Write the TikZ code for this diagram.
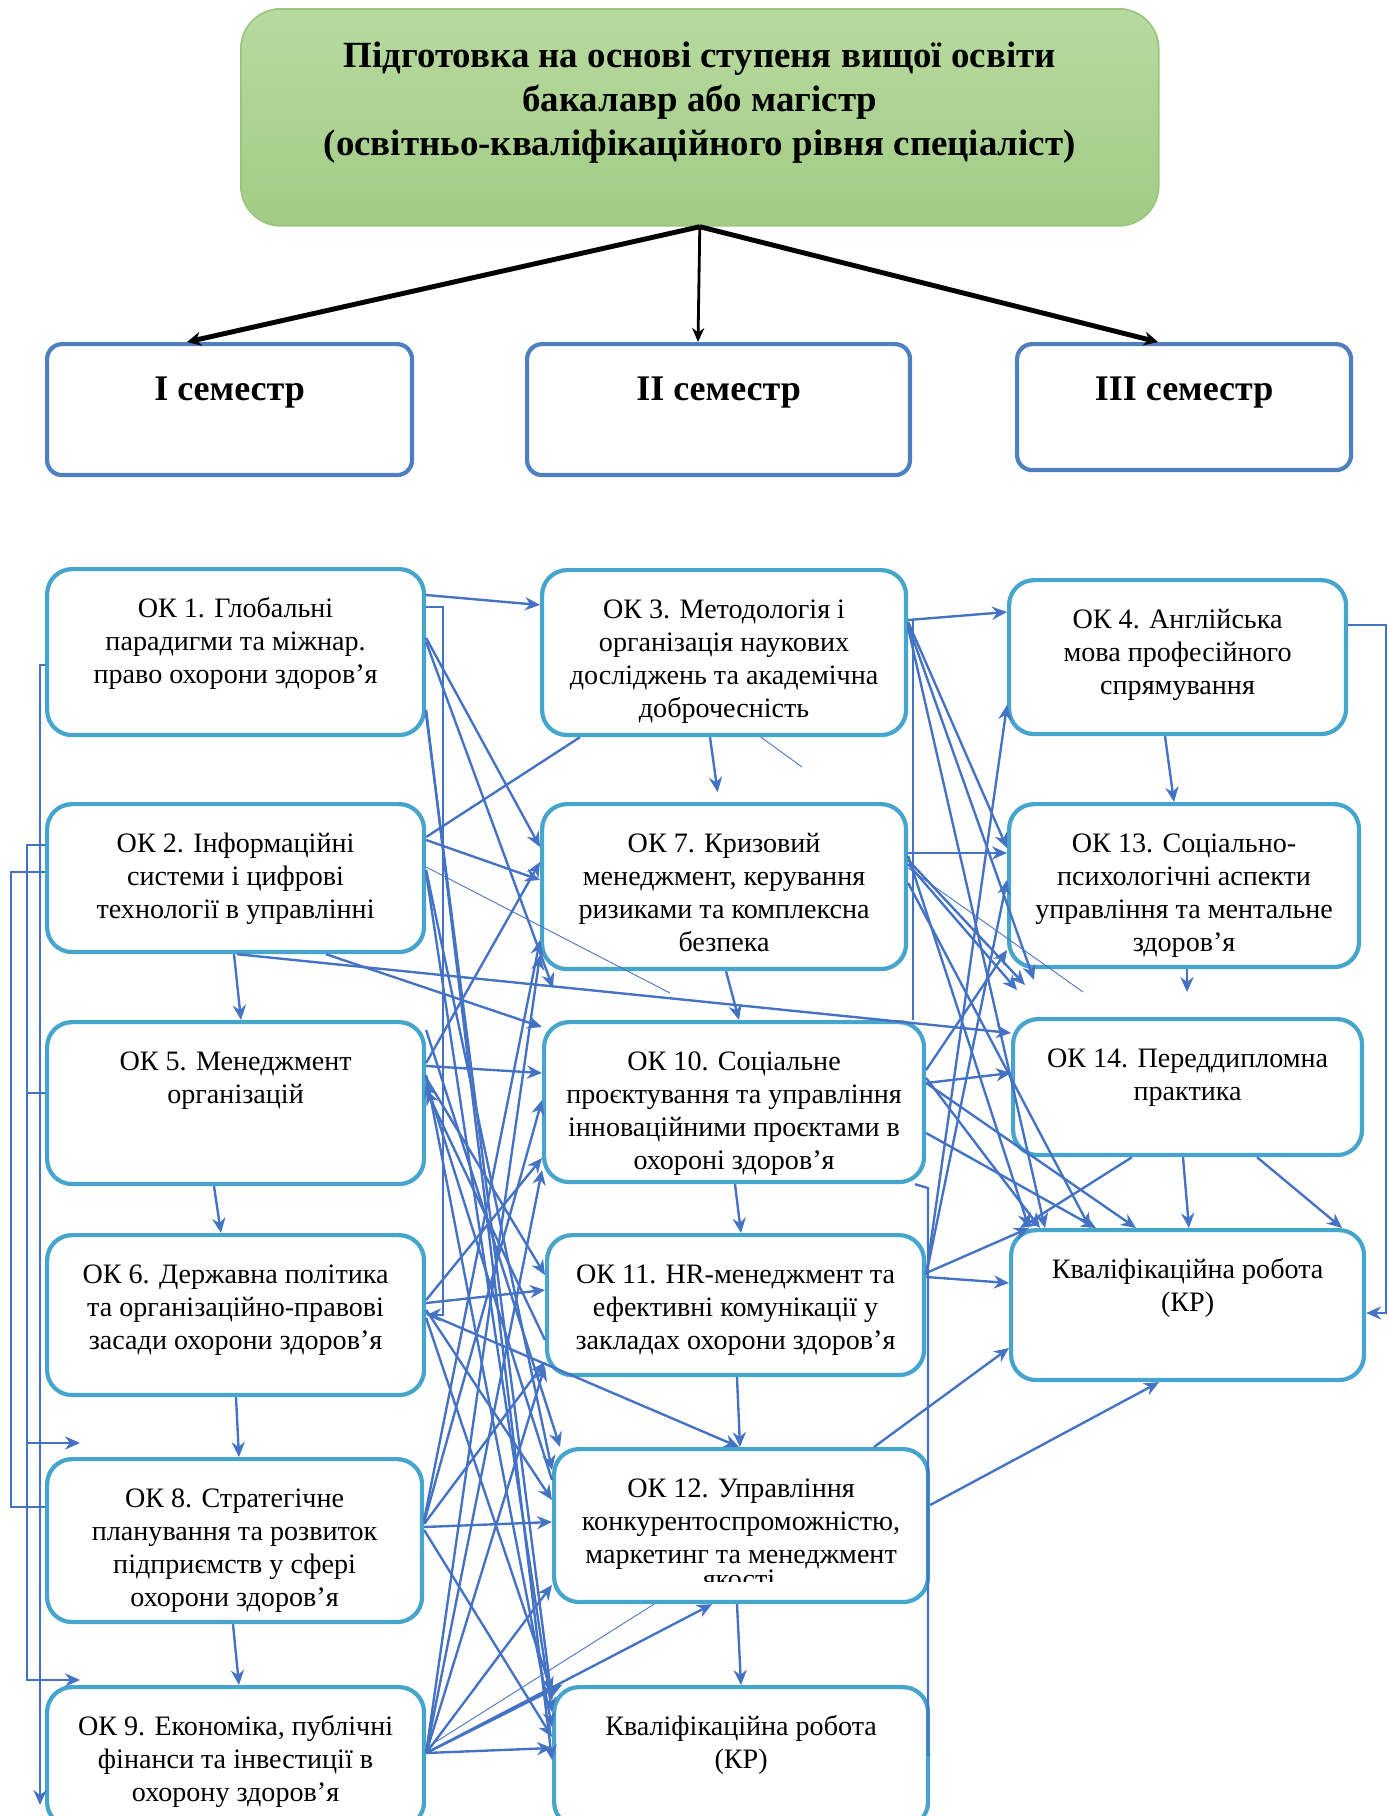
\documentclass[tikz,border=0pt]{standalone}
\usepackage{fontspec}
\setmainfont{Liberation Serif}
\usetikzlibrary{arrows.meta}
\definecolor{okc}{HTML}{45A5CC}
\definecolor{semc}{HTML}{4F7FC0}
\definecolor{lnc}{HTML}{4472C4}
\definecolor{greenT}{HTML}{B7DA9F}
\definecolor{greenB}{HTML}{A2CC85}
\definecolor{greenD}{HTML}{9BC57F}
\newcommand\bt[4][0.96cm]{\parbox[t][#3][t]{#2}{\centering\rule{0pt}{#1}#4\par}}
\tikzset{
  okb/.style={draw=okc, line width=2.4pt, rounded corners=0.5cm, inner sep=0pt, fill=white, font=\fontsize{16}{18.8}\selectfont, anchor=north west},
  semb/.style={draw=semc, line width=2.4pt, rounded corners=0.3cm, inner sep=0pt, fill=white, font=\bfseries\fontsize{20.5}{24}\selectfont, anchor=north west},
  topb/.style={draw=greenD, line width=1pt, rounded corners=0.8cm, top color=greenT, bottom color=greenB, inner sep=0pt, font=\bfseries\fontsize{21}{25}\selectfont, anchor=north west},
  txt/.style={inner sep=0pt, font=\fontsize{16}{18.8}\selectfont},
  conn/.style={draw=lnc, line width=1.35pt},
  arr/.style={conn, -{Stealth[length=8.5pt,width=7.5pt]}},
  thinl/.style={draw=lnc, line width=0.5pt},
  blk/.style={draw=black, line width=2.8pt, -{Stealth[length=8pt,width=8pt]}},
  blkthin/.style={draw=black, line width=1.6pt, -{Stealth[length=8pt,width=7pt]}}
}
\begin{document}
\begin{tikzpicture}[x=0.02cm, y=-0.02cm]
\useasboundingbox (0,0) rectangle (1389,1816);
\begin{scope}
\clip (0,0) rectangle (1389,1816);
% ---------- top ----------
\node[topb] (top) at (240,8) {\bt[1.18cm]{18.36cm}{4.34cm}{Підготовка на основі ступеня вищої освіти\\бакалавр або магістр\\(освітньо-кваліфікаційного рівня спеціаліст)}};
\node[semb] (s1) at (45,342) {\bt[1.12cm]{7.30cm}{2.62cm}{I семестр}};
\node[semb] (s2) at (525,342) {\bt[1.12cm]{7.66cm}{2.62cm}{II семестр}};
\node[semb] (s3) at (1015,342) {\bt[1.12cm]{6.68cm}{2.52cm}{III семестр}};
% ---------- column 1 ----------
\node[okb] (ok1) at (45,567) {\bt{7.54cm}{3.32cm}{ОК 1. Глобальні\\парадигми та міжнар.\\право охорони здоров’я}};
\node[okb] (ok2) at (45,802) {\bt{7.54cm}{2.96cm}{ОК 2. Інформаційні\\системи і цифрові\\технології в управлінні}};
\node[okb] (ok5) at (45,1020) {\bt{7.54cm}{3.24cm}{ОК 5. Менеджмент\\організацій}};
\node[okb] (ok6) at (45,1233) {\bt{7.54cm}{3.20cm}{ОК 6. Державна політика\\та організаційно-правові\\засади охорони здоров’я}};
\node[okb] (ok8) at (45,1457) {\bt{7.50cm}{3.26cm}{ОК 8. Стратегічне\\планування та розвиток\\підприємств у сфері\\охорони здоров’я}};
\node[okb] (ok9) at (45,1685) {\bt{7.54cm}{2.80cm}{ОК 9. Економіка, публічні\\фінанси та інвестиції в\\охорону здоров'я}};
% ---------- column 2 ----------
\node[okb] (ok3) at (540,568) {\bt{7.28cm}{3.30cm}{ОК 3. Методологія і\\організація наукових\\досліджень та академічна\\доброчесність}};
\node[okb] (ok7) at (540,802) {\bt{7.28cm}{3.30cm}{ОК 7. Кризовий\\менеджмент, керування\\ризиками та комплексна\\безпека}};
\node[okb] (ok10) at (542,1020) {\bt{7.60cm}{3.20cm}{ОК 10. Соціальне\\проєктування та управління\\інноваційними проєктами в\\охороні здоров’я}};
\node[okb] (ok11) at (545,1233) {\bt{7.54cm}{2.80cm}{ОК 11. HR-менеджмент та\\ефективні комунікації у\\закладах охорони здоров’я}};
\node[okb] (ok12) at (552,1447) {\bt{7.48cm}{3.06cm}{ОК 12. Управління\\конкурентоспроможністю,\\маркетинг та менеджмент}};
\node[okb] (kr2) at (552,1685) {\bt{7.48cm}{2.80cm}{Кваліфікаційна робота\\(КР)}};
% ---------- column 3 ----------
\node[okb] (ok4) at (1007,578) {\bt{6.74cm}{3.08cm}{ОК 4. Англійська\\мова професійного\\спрямування}};
\node[okb] (ok13) at (1007,802) {\bt{7.00cm}{3.26cm}{ОК 13. Соціально-\\психологічні аспекти\\управління та ментальне\\здоров’я}};
\node[okb] (ok14) at (1011,1017) {\bt{6.98cm}{2.72cm}{ОК 14. Переддипломна\\практика}};
\node[okb] (kr3) at (1009,1228) {\bt{7.06cm}{3.00cm}{Кваліфікаційна робота\\(КР)}};
\begin{scope}
\clip (560,1560) rectangle (920,1581);
\node[txt, anchor=base] (ok12t) at (739,1588) {якості};
\end{scope}
% ---------- free ends ----------
\coordinate (t13) at (1187,992);
\coordinate (l9) at (80,1680);
\coordinate (l2m) at (27,1443);
\coordinate (l8) at (80,1443);
\coordinate (lb) at (40,1805);
\coordinate (x7) at (553,988);
\coordinate (x13a) at (1034,980);
\coordinate (x13b) at (1025,985);
\coordinate (x13c) at (1017,990);
\coordinate (th1) at (670,993);
\coordinate (th2) at (802,767);
\coordinate (th3) at (1083,992);
% ---------- black arrows ----------
\draw[blk] (top.south) -- (s1.north-|187,0);
\draw[blkthin] (top.south) -- (s2.north-|698,0);
\draw[blk] (top.south) -- (s3.north-|1158,0);
% ---------- side lines ----------
\draw[arr] (ok1.west|-0,665) -- (40,665) -- (lb);
\draw[arr] (ok2.west|-0,845) -- (27,845) -- (27,1680) -- (l9);
\draw[arr] (l2m) -- (l8);
\draw[conn] (ok2.west|-0,872) -- (11,872) -- (11,1507) -- (ok8.west|-0,1507);
\draw[conn] (ok5.west|-0,1093) -- (27,1093);
\draw[arr] (ok4.east|-0,625) -- (1386,625) -- (1386,1313) -- (kr3.east|-0,1313);
\draw[arr] (ok1.east|-0,607) -- (443,607) -- (443,1315) -- (ok6.east|-0,1315);
\draw[conn] (ok3.east|-0,620) -- (913,620) -- (ok10.north-|913,0);
\draw[conn] (ok10.south-|915,0) -- (928,1188) -- (928,1755) -- (kr2.east|-0,1755);
% ---------- vertical arrows ----------
\draw[arr] (ok2.south-|234,0) -- (ok5.north-|241,0);
\draw[arr] (ok5.south-|214,0) -- (ok6.north-|221,0);
\draw[arr] (ok6.south-|236,0) -- (ok8.north-|239,0);
\draw[arr] (ok8.south-|233,0) -- (ok9.north-|239,0);
\draw[arr, shorten >=0.2cm] (ok3.south-|710,0) -- (ok7.north-|719,0);
\draw[arr] (ok7.south-|726,0) -- (ok10.north-|739,0);
\draw[arr] (ok10.south-|735,0) -- (ok11.north-|741,0);
\draw[arr] (ok11.south-|737,0) -- (ok12.north-|740,0);
\draw[arr] (ok12.south-|737,0) -- (kr2.north-|741,0);
\draw[arr] (ok4.south-|1165,0) -- (ok13.north-|1174,0);
\draw[arr] (ok13.south-|1187,0) -- (t13);
\draw[arr] (ok14.south-|1183,0) -- (kr3.north-|1189,0);
\draw[arr] (ok14.south-|1132,0) -- (kr3.north-|1020,0);
\draw[arr] (ok14.south-|1257,0) -- (kr3.north-|1342,0);
% ---------- from OK1 ----------
\draw[arr] (ok1.east|-0,595) -- (ok3.west|-0,605);
\draw[arr] (ok1.east|-0,638) -- (ok7.west|-0,847);
\draw[arr] (ok1.east|-0,642) -- (x7);
\draw[arr] (ok1.east|-0,710) -- (kr2.west|-0,1760);
\draw[arr] (ok1.east|-0,715) -- (kr2.west|-0,1700);
% ---------- from OK2 ----------
\draw[conn] (ok2.east|-0,837) -- (ok3.south-|580,0);
\draw[arr] (ok2.east|-0,840) -- (ok7.west|-0,880);
\draw[thinl] (ok2.east|-0,867) -- (th1);
\draw[arr] (ok2.east|-0,873) -- (kr2.west|-0,1712);
\draw[arr] (ok2.east|-0,870) -- (ok12.west|-0,1470);
\draw[arr] (ok2.south-|237,0) -- (ok14.west|-0,1033);
\draw[arr] (ok2.south-|326,0) -- (ok10.west|-0,1027);
% ---------- from OK5 ----------
\draw[arr] (ok5.east|-0,1063) -- (ok7.west|-0,862);
\draw[arr] (ok5.east|-0,1066) -- (ok10.west|-0,1073);
\draw[arr] (ok5.east|-0,1030) -- (ok12.north-|560,0);
\draw[arr] (ok5.east|-0,1075) -- (kr2.west|-0,1727);
\draw[arr] (ok5.east|-0,1078) -- (ok11.west|-0,1275);
\draw[arr] (ok12.west|-0,1480) -- (ok5.east|-0,1082);
\draw[arr] (ok11.west|-0,1340) -- (ok5.east|-0,1090);
% ---------- from OK6 ----------
\draw[arr] (ok6.east|-0,1303) -- (ok11.west|-0,1290);
\draw[arr] (ok6.east|-0,1300) -- (ok10.west|-0,1158);
\draw[arr] (ok6.east|-0,1313) -- (ok12.north-|739,0);
\draw[arr] (ok6.east|-0,1318) -- (kr2.west|-0,1692);
\draw[arr] (ok6.east|-0,1310) -- (ok12.west|-0,1500);
% ---------- from OK8 ----------
\draw[arr] (ok8.east|-0,1527) -- (ok12.west|-0,1522);
\draw[arr] (ok8.east|-0,1530) -- (kr2.west|-0,1737);
\draw[arr] (ok8.east|-0,1522) -- (ok10.west|-0,1100);
\draw[arr] (ok8.east|-0,1524) -- (ok11.west|-0,1362);
\draw[arr] (ok8.east|-0,1520) -- (ok7.west|-0,940);
% ---------- from OK9 ----------
\draw[arr] (ok9.east|-0,1753) -- (kr2.west|-0,1748);
\draw[arr] (ok9.east|-0,1753) -- (kr2.north-|562,0);
\draw[thinl] (ok9.east|-0,1748) -- (ok12.south-|654,0);
\draw[arr] (ok9.east|-0,1753) -- (ok12.south-|712,0);
\draw[arr] (ok9.east|-0,1753) -- (ok7.west|-0,955);
\draw[arr] (ok9.east|-0,1753) -- (ok10.west|-0,1170);
\draw[arr] (ok9.east|-0,1753) -- (ok11.west|-0,1366);
\draw[arr] (ok9.east|-0,1753) -- (ok12.west|-0,1585);
% ---------- column 2 to column 3 ----------
\draw[arr] (ok3.east|-0,620) -- (ok4.west|-0,612);
\draw[arr] (ok3.east|-0,622) -- (ok13.west|-0,848);
\draw[arr] (ok3.east|-0,625) -- (x13a);
\draw[arr] (ok3.east|-0,628) -- (kr3.north-|1045,0);
\draw[thinl] (ok3.south-|761,0) -- (th2);
\draw[arr] (ok7.east|-0,853) -- (ok13.west|-0,853);
\draw[arr] (ok7.east|-0,860) -- (x13b);
\draw[arr] (ok7.east|-0,864) -- (x13c);
\draw[thinl] (ok7.east|-0,868) -- (th3);
\draw[arr] (ok7.east|-0,856) -- (kr3.north-|1029,0);
\draw[arr] (ok7.east|-0,883) -- (kr3.north-|1090,0);
\draw[arr] (ok10.east|-0,1083) -- (ok14.west|-0,1073);
\draw[arr] (ok10.east|-0,1070) -- (ok13.west|-0,950);
\draw[arr] (ok10.east|-0,1083) -- (kr3.north-|1136,0);
\draw[arr] (ok10.east|-0,1133) -- (kr3.north-|1096,0);
\draw[arr] (ok10.east|-0,1078) -- (kr3.north-|1040,0);
\draw[arr] (ok11.east|-0,1277) -- (kr3.west|-0,1283);
\draw[arr] (ok11.east|-0,1273) -- (kr3.north-|1029,0);
\draw[arr] (ok11.east|-0,1275) -- (ok4.west|-0,705);
\draw[arr] (ok11.east|-0,1275) -- (ok13.west|-0,880);
\draw[arr] (ok12.north-|874,0) -- (kr3.west|-0,1348);
\draw[arr] (ok12.east|-0,1505) -- (kr3.south-|1159,0);
\end{scope}
\end{tikzpicture}
\end{document}
